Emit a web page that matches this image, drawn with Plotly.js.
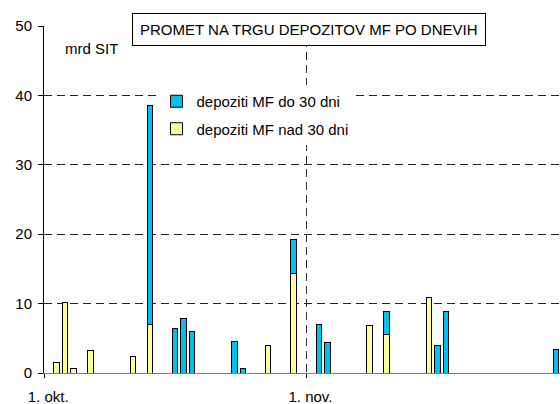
<!DOCTYPE html>
<html>
<head>
<meta charset="utf-8">
<script src="https://cdn.plot.ly/plotly-3.0.1.min.js"></script>
<style>
  html, body { margin: 0; padding: 0; background: #fff; }
  #chart { width: 560px; height: 404px; }
</style>
</head>
<body>
<div id="chart"></div>
<script>
// trgovalni dnevi (leto 2000) in promet v mrd SIT
const shortDates = ['2000-10-13', '2000-10-16', '2000-10-17', '2000-10-18', '2000-10-23', '2000-10-24',
  '2000-10-30', '2000-11-02', '2000-11-03', '2000-11-10', '2000-11-16', '2000-11-17', '2000-11-30'];
const shortValues = [31.5, 6.4, 7.9, 6.0, 4.5, 0.6, 4.9, 7.0, 4.4, 3.4, 4.0, 8.9, 3.4];

const longDates = ['2000-10-02', '2000-10-03', '2000-10-04', '2000-10-06', '2000-10-11', '2000-10-13',
  '2000-10-27', '2000-10-30', '2000-11-08', '2000-11-10', '2000-11-15'];
const longValues = [1.5, 10.2, 0.6, 3.2, 2.4, 7.0, 4.0, 14.3, 6.8, 5.5, 10.9];

const monthStarts = ['2000-10-01', '2000-11-01'];
const monthLabels = ['1. okt.', '1. nov.'];
const monthEdges = ['2000-09-30 12:00', '2000-10-31 12:00'];
const xRange = ['2000-09-30 12:00', '2000-11-30 12:00'];

const DAY = 86400000;
const font = 'Liberation Sans, Arial, sans-serif';

const data = [
  {
    type: 'bar', name: 'depoziti MF nad 30 dni', legendgroup: 'b', legendrank: 2,
    x: longDates, y: longValues, width: 0.64 * DAY,
    marker: { color: '#ffff99', line: { color: '#000', width: 1 } },
    hoverinfo: 'x+y'
  },
  {
    type: 'bar', name: 'depoziti MF do 30 dni', legendgroup: 'a', legendrank: 1,
    x: shortDates, y: shortValues, width: 0.64 * DAY,
    marker: { color: '#00c0f0', line: { color: '#000', width: 1 } },
    hoverinfo: 'x+y'
  },
  // prazna sled, da se nariše druga os (meje mesecev)
  { type: 'scatter', x: [], y: [], xaxis: 'x2', showlegend: false, hoverinfo: 'skip' }
];

const layout = {
  width: 560, height: 404,
  margin: { l: 44, r: 0, t: 26, b: 31 },
  paper_bgcolor: '#fff', plot_bgcolor: '#fff',
  font: { family: font, size: 15, color: '#000' },
  barmode: 'stack',
  showlegend: true,
  legend: {
    x: 0.218, y: 0.83, xanchor: 'left', yanchor: 'top',
    bgcolor: '#fff', borderwidth: 0,
    traceorder: 'grouped', tracegroupgap: 5,
    font: { family: font, size: 15, color: '#000' }
  },
  xaxis: {
    type: 'date', range: xRange, fixedrange: true,
    tickmode: 'array', tickvals: monthStarts, ticktext: monthLabels,
    ticks: '', showgrid: false,
    showline: true, linecolor: '#808080', linewidth: 1,
    zeroline: false, ticklabelstandoff: 10
  },
  xaxis2: {
    type: 'date', range: xRange, overlaying: 'x', anchor: 'y', side: 'bottom',
    tickmode: 'array', tickvals: monthEdges,
    showticklabels: false, ticks: 'outside', ticklen: 4, tickcolor: '#000',
    showgrid: true, gridcolor: '#333', griddash: '8px,5px', gridwidth: 1,
    showline: false, zeroline: false
  },
  yaxis: {
    range: [0, 50], dtick: 10, tick0: 0,
    ticks: 'outside', ticklen: 5, tickcolor: '#000',
    showline: true, linecolor: '#000', linewidth: 1,
    showgrid: true, gridcolor: '#222', griddash: '8px,5px', gridwidth: 1,
    zeroline: false, ticklabelstandoff: 3
  },
  annotations: [
    {
      text: 'PROMET NA TRGU DEPOZITOV MF PO DNEVIH',
      xref: 'paper', yref: 'paper', x: 0.5126, y: 0.991,
      xanchor: 'center', yanchor: 'middle', showarrow: false,
      bgcolor: '#fff', bordercolor: '#000', borderwidth: 1, borderpad: 7,
      font: { family: font, size: 15, color: '#000' }
    },
    {
      text: 'mrd SIT',
      xref: 'paper', yref: 'paper', x: 0.036, y: 0.934,
      xanchor: 'left', yanchor: 'middle', showarrow: false,
      font: { family: font, size: 15, color: '#000' }
    }
  ]
};

Plotly.newPlot('chart', data, layout, { displayModeBar: false, staticPlot: true });
</script>
</body>
</html>
